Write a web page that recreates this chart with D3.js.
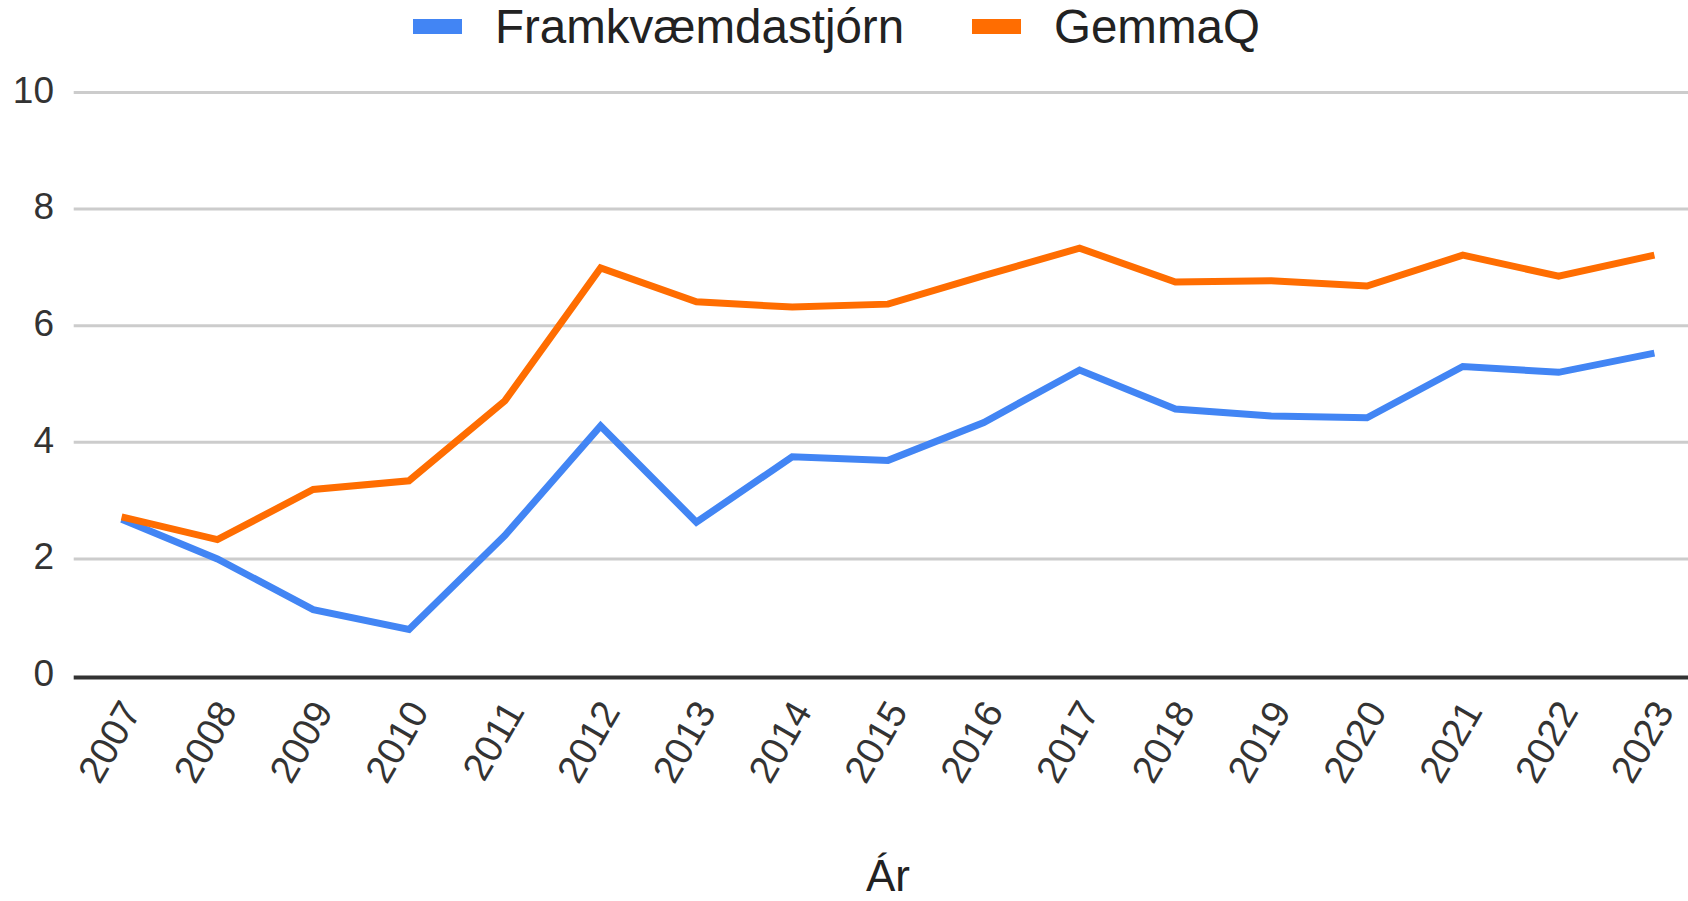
<!DOCTYPE html>
<html>
<head>
<meta charset="utf-8">
<script src="https://cdn.jsdelivr.net/npm/d3@7"></script>
<style>
  html, body { margin: 0; padding: 0; background: #fff; }
  svg { display: block; font-family: "Liberation Sans", Arial, sans-serif; }
</style>
</head>
<body>
<div id="chart"></div>
<script>
const years = ["2007", "2008", "2009", "2010", "2011", "2012", "2013", "2014", "2015",
  "2016", "2017", "2018", "2019", "2020", "2021", "2022", "2023"];
const framkvaemdastjorn = [2.68, 2.0, 1.13, 0.79, 2.4, 4.28, 2.63, 3.75, 3.69,
  4.34, 5.24, 4.57, 4.45, 4.42, 5.3, 5.2, 5.53];
const gemmaQ = [2.72, 2.33, 3.19, 3.34, 4.71, 6.99, 6.41, 6.32, 6.37,
  6.86, 7.33, 6.75, 6.77, 6.68, 7.21, 6.85, 7.21];
const seriesNames = ["Framkvæmdastjórn", "GemmaQ"];
const yTicks = [0, 2, 4, 6, 8, 10];
const xTitle = "Ár";

const W = 1688, H = 901;
const plot = { left: 73.7, right: 1702.3, top: 92.5, bottom: 675.5 };
const colors = ["#4285f4", "#ff6d01"];

const svg = d3.select("#chart")
  .append("svg")
  .attr("width", W)
  .attr("height", H);

const x = d3.scalePoint()
  .domain(years)
  .range([plot.left, plot.right])
  .padding(0.5);

const y = d3.scaleLinear()
  .domain([0, 10])
  .range([plot.bottom, plot.top]);

// gridlines
svg.append("g")
  .selectAll("line")
  .data(yTicks.filter(d => d !== 0))
  .join("line")
  .attr("x1", plot.left)
  .attr("x2", plot.right)
  .attr("y1", d => y(d))
  .attr("y2", d => y(d))
  .attr("stroke", "#cccccc")
  .attr("stroke-width", 3);

// y labels
svg.append("g")
  .selectAll("text")
  .data(yTicks)
  .join("text")
  .attr("x", 54)
  .attr("y", d => y(d))
  .attr("dy", "0.28em")
  .attr("text-anchor", "end")
  .attr("font-size", 37)
  .attr("fill", "#333")
  .text(d => d);

// lines
const line = d3.line()
  .x((d, i) => x(years[i]))
  .y(d => y(d));

[framkvaemdastjorn, gemmaQ].forEach((vals, i) => {
  svg.append("path")
    .datum(vals)
    .attr("d", line)
    .attr("fill", "none")
    .attr("stroke", colors[i])
    .attr("stroke-width", 7)
    .attr("stroke-linejoin", "miter");
});

// baseline
svg.append("line")
  .attr("x1", plot.left)
  .attr("x2", plot.right)
  .attr("y1", y(0) + 2)
  .attr("y2", y(0) + 2)
  .attr("stroke", "#333")
  .attr("stroke-width", 4);

// x labels, slanted
svg.append("g")
  .selectAll("text")
  .data(years)
  .join("text")
  .attr("transform", d => `translate(${x(d) + 9},${plot.bottom + 29}) rotate(-60)`)
  .attr("text-anchor", "end")
  .attr("dy", "0.35em")
  .attr("font-size", 38.5)
  .attr("fill", "#333")
  .text(d => d);

// x title
svg.append("text")
  .attr("x", (plot.left + plot.right) / 2)
  .attr("y", 891)
  .attr("text-anchor", "middle")
  .attr("font-size", 44)
  .attr("fill", "#222")
  .text(xTitle);

// legend
const legendX = [413, 972];
const legend = svg.selectAll(".legend")
  .data(seriesNames)
  .join("g")
  .attr("class", "legend")
  .attr("transform", (d, i) => `translate(${legendX[i]}, 19)`);

legend.append("rect")
  .attr("width", 49)
  .attr("height", 15)
  .attr("fill", (d, i) => colors[i]);

legend.append("text")
  .attr("x", 82)
  .attr("y", 24)
  .attr("font-size", 47.5)
  .attr("fill", "#222")
  .text(d => d);
</script>
</body>
</html>
